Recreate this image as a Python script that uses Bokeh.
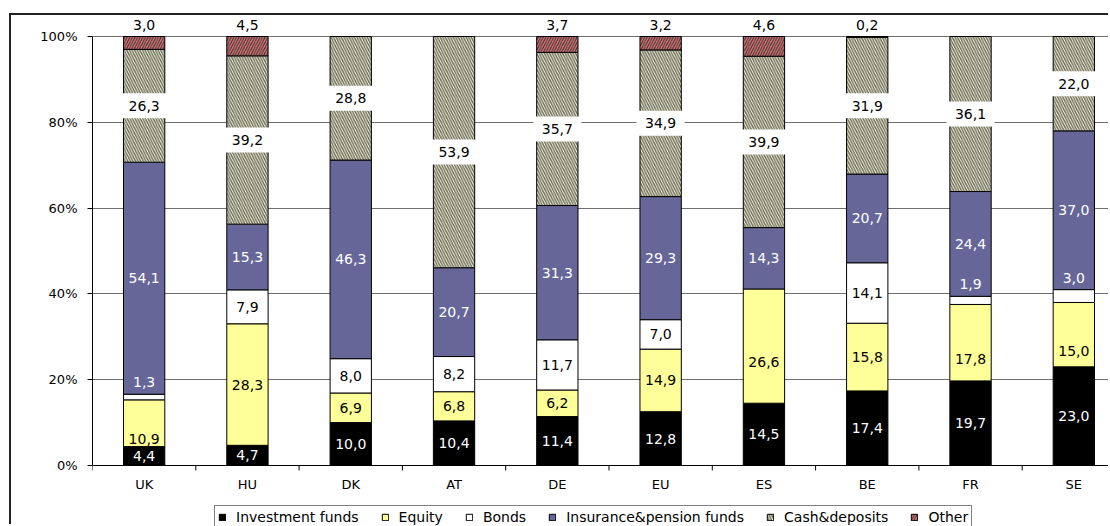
from bokeh.plotting import figure
from bokeh.models import Range1d, FixedTicker, Legend, LegendItem, ColumnDataSource, Span
from bokeh.core.properties import value
from bokeh.embed import file_html
from bokeh.resources import INLINE

# ---------------- data ----------------
countries = ["UK", "HU", "DK", "AT", "DE", "EU", "ES", "BE", "FR", "SE"]
investment_funds = [4.4, 4.7, 10.0, 10.4, 11.4, 12.8, 14.5, 17.4, 19.7, 23.0]
equity = [10.9, 28.3, 6.9, 6.8, 6.2, 14.9, 26.6, 15.8, 17.8, 15.0]
bonds = [1.3, 7.9, 8.0, 8.2, 11.7, 7.0, 0.0, 14.1, 1.9, 3.0]
insurance_pension = [54.1, 15.3, 46.3, 20.7, 31.3, 29.3, 14.3, 20.7, 24.4, 37.0]
cash_deposits = [26.3, 39.2, 28.8, 53.9, 35.7, 34.9, 39.9, 31.9, 36.1, 22.0]
other = [3.0, 4.5, 0.0, 0.0, 3.7, 3.2, 4.6, 0.2, 0.0, 0.0]
series_names = ["Investment funds", "Equity", "Bonds", "Insurance&pension funds",
                "Cash&deposits", "Other"]
y_ticks = [0, 20, 40, 60, 80, 100]
y_tick_labels = ["0%", "20%", "40%", "60%", "80%", "100%"]

series = [investment_funds, equity, bonds, insurance_pension, cash_deposits, other]

FONT = "DejaVu Sans"
W, H = 1099, 511
PX = 4.29  # pixels per percentage point

p = figure(width=W, height=H, x_range=Range1d(-0.5, 9.355), y_range=Range1d(-14.22, 104.66),
           output_backend="svg", toolbar_location=None,
           min_border_left=81, min_border_right=0, min_border_top=1, min_border_bottom=0)
p.margin = (13, 0, 0, 9)
p.styles = {"border-top": "2px solid #222", "border-left": "2px solid #222"}
p.outline_line_color = None
p.background_fill_color = "white"
p.border_fill_color = "white"

# grid
p.xgrid.visible = False
p.ygrid.ticker = FixedTicker(ticks=y_ticks[1:])
p.ygrid.grid_line_color = "#6f6f6f"
p.ygrid.grid_line_width = 1

# y axis
p.yaxis.ticker = FixedTicker(ticks=y_ticks)
p.yaxis.major_label_overrides = {t: l for t, l in zip(y_ticks, y_tick_labels)}
p.yaxis.bounds = (0, 100)
p.yaxis.axis_line_color = "black"
p.yaxis.major_tick_out = 5
p.yaxis.major_tick_in = 0
p.yaxis.minor_tick_line_color = None
p.yaxis.major_label_text_font = FONT
p.yaxis.major_label_text_font_size = "13px"
p.yaxis.major_label_text_color = "black"
p.yaxis.major_label_standoff = 10

# category axis (drawn inside the frame so the legend can sit below it)
p.xaxis.visible = False
n = len(countries)
p.add_layout(Span(location=0, dimension="width", line_color="black", line_width=1))
bounds_x = [i - 0.5 for i in range(n + 1)]
p.segment(x0=bounds_x, y0=[0] * len(bounds_x), x1=bounds_x, y1=[-5 / PX] * len(bounds_x),
          line_color="black", line_width=1)
p.text(x=list(range(n)), y=[-19 / PX] * n, text=countries, text_align="center",
       text_baseline="middle", text_font=value(FONT), text_font_size="13px", text_color="black")

# ---------------- bars ----------------
styles = [
    dict(fill_color="black"),
    dict(fill_color="#ffff99"),
    dict(fill_color="white"),
    dict(fill_color="#666699"),
    dict(fill_color="white", hatch_pattern="left_diagonal_line", hatch_color="#707052",
         hatch_scale=5.2, hatch_weight=1.5),
    dict(fill_color="#f47676", hatch_pattern="right_diagonal_line", hatch_color="#3a3a3a",
         hatch_scale=5.2, hatch_weight=1.2),
]
label_colors = ["white", "black", "black", "white", "black", "black"]

totals = [sum(s[i] for s in series) for i in range(n)]
bottoms = [0.0] * n
renderers = []
lab_x, lab_y, lab_t, lab_c = [], [], [], []
bg_x, bg_y = [], []
seg = {}
for k, s in enumerate(series):
    xs, bs, ts = [], [], []
    for i in range(n):
        h = s[i] / totals[i] * 100.0
        b = bottoms[i]
        t = b + h
        seg[(k, i)] = (b, t)
        bottoms[i] = t
        if s[i] > 0:
            xs.append(i); bs.append(b); ts.append(t)
    src = ColumnDataSource(dict(x=xs, bottom=bs, top=ts))
    r = p.vbar(x="x", bottom="bottom", top="top", width=0.4, source=src,
               line_color="black", line_width=1, **styles[k])
    renderers.append(r)

def fmt(v):
    return f"{v:.1f}".replace(".", ",")

for k, s in enumerate(series):
    for i in range(n):
        if s[i] <= 0:
            continue
        b, t = seg[(k, i)]
        y = (b + t) / 2
        col = label_colors[k]
        if k == 1 and bonds[i] < 3.5:
            y -= 3.7
        if k == 2 and s[i] < 3.5:
            y = t + 2.8
            col = "white"
        if k == 5:
            y = 102.6
        if k == 4:
            bg_x.append(i); bg_y.append(y)
        lab_x.append(i); lab_y.append(y); lab_t.append(fmt(s[i])); lab_c.append(col)

p.rect(x=bg_x, y=bg_y, width=48, height=25, width_units="screen", height_units="screen",
       fill_color="white", line_color=None)
p.text(x=lab_x, y=lab_y, text=lab_t, text_color=lab_c, text_align="center",
       text_baseline="middle", text_font=value(FONT), text_font_size="14px")

# ---------------- legend ----------------
legend = Legend(items=[LegendItem(label=nm, renderers=[r]) for nm, r in zip(series_names, renderers)],
                orientation="horizontal", location=(122, -3), margin=0, padding=3,
                spacing=22, glyph_width=8, glyph_height=8, label_standoff=10, label_height=12,
                border_line_color="black", border_line_width=1,
                label_text_font=FONT, label_text_font_size="14px", label_text_color="black",
                background_fill_color="white", background_fill_alpha=1)
p.add_layout(legend, "center")

open("out.html", "w").write(file_html(p, INLINE))
